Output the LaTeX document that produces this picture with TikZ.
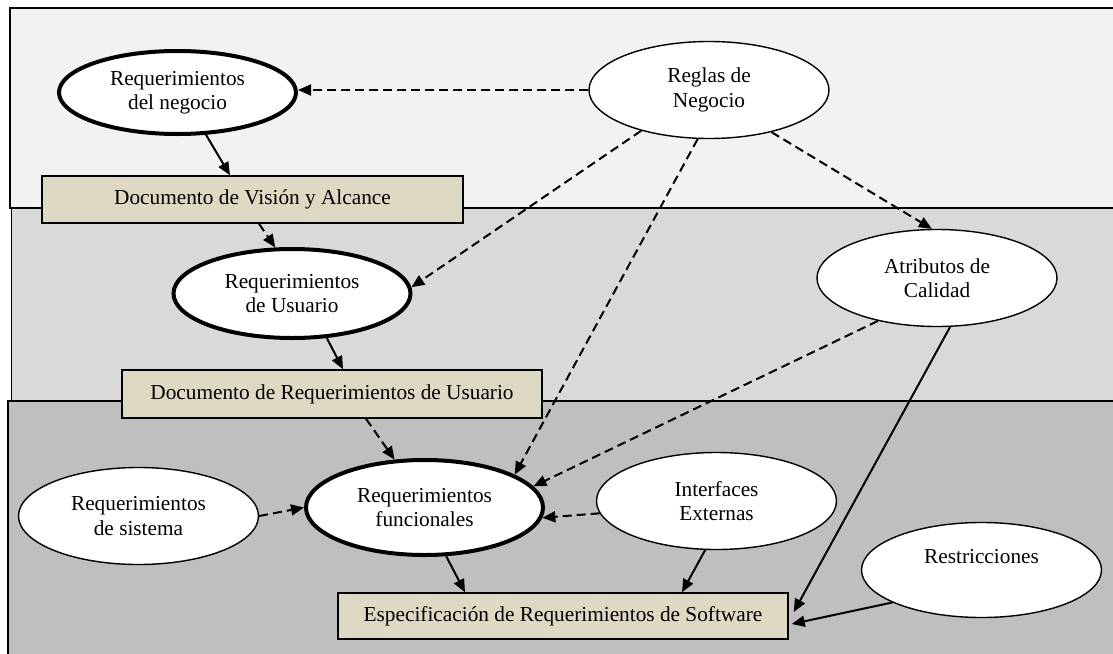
\documentclass[tikz,border=0pt]{standalone}
\usepackage{fontspec}
\setmainfont{Liberation Serif}
\usetikzlibrary{shapes.geometric,arrows.meta,calc}
\definecolor{bandA}{HTML}{F2F2F2}
\definecolor{bandB}{HTML}{D9D9D9}
\definecolor{bandC}{HTML}{BFBFBF}
\definecolor{docfill}{HTML}{DDD9C3}

\begin{document}
\begin{tikzpicture}[x=1pt,y=-1pt,
  every node/.style={font=\fontsize{21.3}{24.5}\selectfont, align=center, inner sep=0pt},
  req/.style={ellipse, draw, fill=white, line width=1.4pt, minimum width=240pt, minimum height=97pt},
  keyreq/.style={req, line width=4pt, minimum width=237pt, minimum height=95pt},
  doc/.style={rectangle, draw, fill=docfill, line width=1.5pt},
  flow/.style={line width=2pt, -{Triangle[length=13pt,width=11pt]}},
  dep/.style={flow, dash pattern=on 9pt off 5pt},
  band/.style={draw, line width=1.4pt}]

\useasboundingbox (0,0) rectangle (1113,653);
\clip (0,0) rectangle (1113,653);
\fill[white] (0,0) rectangle (1113,653);

% three shaded levels
\draw[band, fill=bandA] (10,8) rectangle (1130,208);
\draw[band, fill=bandB] (11.5,208) rectangle (1130,401);
\draw[band, fill=bandC] (8,401) rectangle (1130,680);

% requirement ellipses and documents
\node[keyreq, minimum height=83pt] (reqneg) at (177.5,92.5) {Requerimientos\\del negocio};
\node[req] (reglas) at (709,90) {Reglas de\\Negocio};
\node[doc, minimum width=421pt, minimum height=47pt] (docvis) at (252.5,199.5) {Documento de Visión y Alcance};
\node[keyreq, minimum height=89pt] (requsu) at (292,293.5) {Requerimientos\\de Usuario};
\node[doc, minimum width=420pt, minimum height=48pt] (docusu) at (332,394) {Documento de Requerimientos de Usuario};
\node[req] (atrib) at (937,278) {Atributos de\\Calidad};
\node[keyreq] (reqfun) at (424.5,507.5) {Requerimientos\\funcionales};
\node[req] (reqsis) at (138.5,516) {Requerimientos\\de sistema};
\node[req] (ifaces) at (716.5,501) {Interfaces\\Externas};
\node[req, minimum height=95pt, label={[yshift=13pt]center:Restricciones}] (restr) at (981.5,570) {};
\node[doc, minimum width=450pt, minimum height=46pt] (espec) at (563,616) {Especificación de Requerimientos de Software};

% connectors
\draw[dep] (reglas.west) -- (reglas.west -| reqneg.east);
\draw[flow] (reqneg.-56) -- ([xshift=-22.5pt]docvis.north);
\draw[dep] ([xshift=6.5pt]docvis.south) -- (requsu.110);
\draw[dep] (reglas.211) -- (requsu.3);
\draw[dep] (reglas.257) -- (reqfun.20);
\draw[dep] (reglas.-34) -- (atrib.96);
\draw[dep] (atrib.216) -- (reqfun.11);
\draw[flow] (atrib.-75) -- ([xshift=5pt,yshift=4pt]espec.east);
\draw[flow] (restr.200) -- ([xshift=3pt,yshift=-8pt]espec.east);
\draw[flow] (requsu.-52) -- ([xshift=11pt]docusu.north);
\draw[dep] ([xshift=34pt]docusu.south) -- (reqfun.122);
\draw[dep] (reqsis.east) -- (reqfun.west);
\draw[dep] (ifaces.186) -- (reqfun.-5);
\draw[flow] (reqfun.-66) -- ([xshift=-98pt]espec.north);
\draw[flow] (ifaces.257) -- ([xshift=119pt]espec.north);
\end{tikzpicture}
\end{document}
